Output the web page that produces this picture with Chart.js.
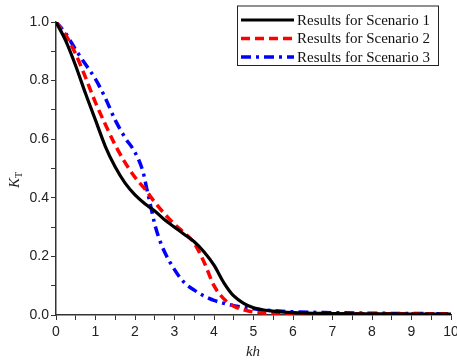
<!DOCTYPE html>
<html>
<head>
<meta charset="utf-8">
<script src="https://cdn.jsdelivr.net/npm/chart.js@4/dist/chart.umd.min.js"></script>
<style>
  html, body { margin: 0; padding: 0; background: #fff; }
  #wrap { width: 457px; height: 363px; position: relative; }
</style>
</head>
<body>
<div id="wrap"><canvas id="c" width="457" height="363"></canvas></div>
<script>
// ---- data ----
const seriesNames = ["Results for Scenario 1", "Results for Scenario 2", "Results for Scenario 3"];

const khS1 = [0, 0.25, 0.5, 0.75, 1.0, 1.25, 1.5, 1.75, 2.0, 2.25, 2.5, 2.75, 3.0, 3.25, 3.5, 3.75, 4.0, 4.25, 4.5, 4.75, 5.0, 5.5, 6, 7, 8, 9, 10];
const ktS1 = [1.0, 0.935, 0.85, 0.755, 0.665, 0.575, 0.505, 0.45, 0.41, 0.38, 0.355, 0.325, 0.30, 0.275, 0.25, 0.215, 0.17, 0.11, 0.065, 0.04, 0.025, 0.013, 0.008, 0.005, 0.004, 0.003, 0.003];

const khS2 = [0, 0.25, 0.5, 0.75, 1.0, 1.25, 1.5, 1.75, 2.0, 2.25, 2.5, 2.75, 3.0, 3.25, 3.5, 3.75, 4.0, 4.25, 4.5, 4.75, 5.0, 5.5, 6, 7, 8, 9, 10];
const ktS2 = [1.0, 0.955, 0.89, 0.81, 0.725, 0.65, 0.58, 0.52, 0.47, 0.43, 0.385, 0.345, 0.31, 0.28, 0.245, 0.18, 0.10, 0.055, 0.03, 0.018, 0.01, 0.005, 0.004, 0.004, 0.004, 0.004, 0.004];

const khS3 = [0, 0.25, 0.5, 0.75, 1.0, 1.25, 1.5, 1.75, 2.0, 2.2, 2.3, 2.4, 2.5, 2.6, 2.75, 3.0, 3.25, 3.5, 3.75, 4.0, 4.5, 5.0, 5.5, 6, 7, 8, 9, 10];
const ktS3 = [1.0, 0.96, 0.905, 0.855, 0.805, 0.74, 0.665, 0.605, 0.555, 0.49, 0.43, 0.37, 0.31, 0.265, 0.215, 0.155, 0.11, 0.085, 0.065, 0.05, 0.032, 0.021, 0.015, 0.011, 0.008, 0.006, 0.005, 0.004];

const xTickLabels = ["0", "1", "2", "3", "4", "5", "6", "7", "8", "9", "10"];
const yTickLabels = ["0.0", "0.2", "0.4", "0.6", "0.8", "1.0"];

const toPts = (xs, ys) => xs.map((x, i) => ({ x: x, y: ys[i] }));

// ---- plugins: axis titles and boxed legend ----
const extras = {
  id: 'extras',
  afterDraw(chart) {
    const ctx = chart.ctx;
    const area = chart.chartArea;
    ctx.save();
    ctx.fillStyle = '#222';
    // x title
    ctx.font = 'italic 15px "Liberation Serif"';
    ctx.textAlign = 'center';
    ctx.textBaseline = 'middle';
    ctx.fillText('kh', (area.left + area.right) / 2 - 0.5, 352);
    // y title K_T rotated
    ctx.translate(14, 179);
    ctx.rotate(-Math.PI / 2);
    ctx.textAlign = 'left';
    ctx.textBaseline = 'alphabetic';
    ctx.font = 'italic 15px "Liberation Serif"';
    const kw = ctx.measureText('K').width;
    ctx.fillText('K', -9, 5);
    ctx.font = '10px "Liberation Serif"';
    ctx.fillText('T', -9 + kw, 8);
    ctx.restore();

    // legend box
    ctx.save();
    const bx = 237, by = 5.5, bw = 201, bh = 59.5;
    ctx.fillStyle = '#fff';
    ctx.fillRect(bx, by, bw, bh);
    ctx.strokeStyle = '#222';
    ctx.lineWidth = 1;
    ctx.strokeRect(bx + 0.5, by + 0.5, bw, bh);
    const rows = [20, 38.5, 57];
    chart.data.datasets.forEach((ds, i) => {
      ctx.save();
      ctx.strokeStyle = ds.borderColor;
      ctx.lineWidth = ds.borderWidth;
      ctx.setLineDash(ds.borderDash || []);
      ctx.beginPath();
      ctx.moveTo(241, rows[i]);
      ctx.lineTo(294, rows[i]);
      ctx.stroke();
      ctx.restore();
      ctx.fillStyle = '#111';
      ctx.font = '15px "Liberation Serif"';
      ctx.textAlign = 'left';
      ctx.textBaseline = 'middle';
      ctx.fillText(ds.label, 297, rows[i] + 1);
    });
    ctx.restore();
  }
};

const axisColor = '#333';

new Chart(document.getElementById('c'), {
  type: 'line',
  data: {
    datasets: [
      { label: seriesNames[0], data: toPts(khS1, ktS1), borderColor: '#000000', borderWidth: 3.2, borderDash: [], pointRadius: 0, fill: false, cubicInterpolationMode: 'monotone' },
      { label: seriesNames[1], data: toPts(khS2, ktS2), borderColor: '#ff0000', borderWidth: 3.5, borderDash: [9, 5], pointRadius: 0, fill: false, cubicInterpolationMode: 'monotone' },
      { label: seriesNames[2], data: toPts(khS3, ktS3), borderColor: '#0000ff', borderWidth: 3.5, borderDash: [10, 5, 3, 5], pointRadius: 0, fill: false, cubicInterpolationMode: 'monotone' }
    ]
  },
  options: {
    responsive: false,
    animation: false,
    devicePixelRatio: 1,
    layout: { padding: { top: 22, right: 6, left: 0, bottom: 0 } },
    plugins: { legend: { display: false }, tooltip: { enabled: false } },
    scales: {
      x: {
        type: 'linear', min: 0, max: 10,
        afterFit(s) { s.height = 48; s.paddingLeft = 0; s.paddingRight = 0; },
        border: { display: true, color: axisColor, width: 1.5 },
        grid: { drawOnChartArea: false, drawTicks: true, tickLength: 5, color: axisColor, tickWidth: 1 },
        ticks: {
          stepSize: 0.5, autoSkip: false, maxRotation: 0, padding: 4,
          color: '#222', font: { family: '"Liberation Sans"', size: 14 },
          callback(v) { const k = Math.round(v * 2); return k % 2 === 0 ? xTickLabels[k / 2] : ''; }
        }
      },
      y: {
        type: 'linear', min: 0, max: 1,
        afterFit(s) { s.width = 56; },
        border: { display: true, color: axisColor, width: 1.5 },
        grid: { drawOnChartArea: false, drawTicks: true, tickLength: 5, color: axisColor, tickWidth: 1 },
        ticks: {
          stepSize: 0.1, autoSkip: false, padding: 2,
          color: '#222', font: { family: '"Liberation Sans"', size: 14 },
          callback(v) { const k = Math.round(v * 10); return k % 2 === 0 ? yTickLabels[k / 2] : ''; }
        }
      }
    }
  },
  plugins: [extras]
});
</script>
</body>
</html>
